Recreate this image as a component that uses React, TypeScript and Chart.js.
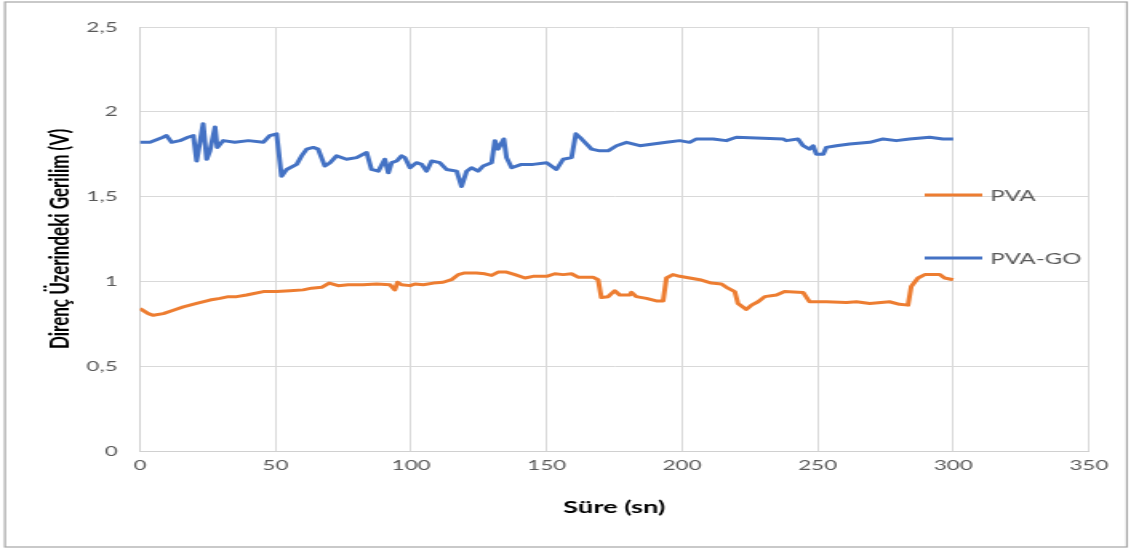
import React, { useEffect, useRef } from 'react';
import { Chart, registerables } from 'chart.js';

Chart.register(...registerables);

// ---- data ----
const seriesNames = ['PVA', 'PVA-GO'];
const seriesColors = ['#ED7D31', '#4472C4'];

const pvaTimes = [
  0, 3.1, 4.9, 8.6, 12.3, 16, 20.9, 25.8, 29.5, 32.6, 35.7, 39.3, 45.5, 50.4, 55.3, 60.2, 63.3, 67, 69.8, 73.1,
  76.8, 82.3, 87.3, 92.2, 94, 95, 96.5, 99.6, 101.4, 104.5, 108.2, 111.8, 114.9, 117.4, 119.8, 124.1, 127.2, 129.7, 132.1, 135.2,
  138.3, 142, 145, 150, 153, 156.1, 159.2, 161.6, 167.1, 169, 170.2, 172.7, 175.1, 177, 180.7, 181.3, 183.1, 186.8, 190.5, 193,
  194.2, 196.6, 199.1, 206.5, 210.8, 214.5, 216.9, 219.4, 220.6, 223.7, 225.6, 228, 230.5, 234.8, 237.8, 244.6, 247, 253.2, 260.6, 264.3,
  269.2, 276.5, 280.2, 283.3, 284.5, 287, 289.5, 295, 296.8, 300,
];
const pvaValues = [
  0.84, 0.81, 0.8, 0.81, 0.83, 0.85, 0.87, 0.89, 0.9, 0.91, 0.91, 0.92, 0.94, 0.94, 0.945, 0.95, 0.96, 0.965, 0.99, 0.975,
  0.98, 0.98, 0.985, 0.98, 0.95, 0.995, 0.98, 0.975, 0.985, 0.98, 0.99, 0.995, 1.01, 1.04, 1.05, 1.05, 1.045, 1.035, 1.055, 1.055,
  1.04, 1.02, 1.03, 1.03, 1.045, 1.04, 1.045, 1.025, 1.025, 1.01, 0.905, 0.91, 0.945, 0.92, 0.92, 0.935, 0.91, 0.9, 0.885, 0.885,
  1.02, 1.04, 1.03, 1.01, 0.99, 0.985, 0.96, 0.94, 0.87, 0.835, 0.86, 0.88, 0.91, 0.92, 0.94, 0.935, 0.88, 0.88, 0.875, 0.88,
  0.87, 0.88, 0.865, 0.86, 0.97, 1.02, 1.04, 1.04, 1.02, 1.01,
];

const goTimes = [
  0, 3.7, 8.5, 9.8, 11.7, 14.7, 17.7, 19.7, 20.9, 23.3, 24.6, 25.8, 27.7, 28.5, 30.7, 35, 40, 45.5, 47.9, 50.4,
  52.2, 54.1, 57.8, 59.6, 61.5, 63.9, 65.7, 68.2, 70.1, 72.5, 76.2, 79.9, 83.6, 85.4, 87.9, 90.3, 91.6, 92.8, 94.7, 96.5,
  97.7, 99.6, 102, 103.9, 105.7, 107.6, 110.6, 113.1, 116.8, 118.6, 120.5, 122.3, 124.7, 126.6, 129.7, 130.9, 132.1, 134.2, 135.2, 137.1,
  140.7, 145, 150, 153.6, 156.1, 159.2, 160.8, 162.9, 166.6, 169.6, 172.7, 175.8, 179.5, 184.4, 189.3, 194.2, 199.1, 202.8, 205.3, 211.4,
  216.3, 220, 237.2, 238.4, 242.7, 244.6, 247, 248.3, 249.5, 252, 253.2, 256.9, 261.8, 269.2, 274.1, 279, 283.9, 291.3, 296.2, 300,
];
const goValues = [
  1.82, 1.82, 1.85, 1.86, 1.82, 1.83, 1.85, 1.86, 1.71, 1.93, 1.72, 1.77, 1.91, 1.79, 1.83, 1.82, 1.83, 1.82, 1.86, 1.87,
  1.62, 1.66, 1.69, 1.74, 1.78, 1.79, 1.78, 1.68, 1.7, 1.74, 1.72, 1.73, 1.76, 1.66, 1.65, 1.72, 1.64, 1.7, 1.71, 1.74,
  1.73, 1.67, 1.7, 1.69, 1.65, 1.71, 1.7, 1.66, 1.65, 1.56, 1.65, 1.67, 1.65, 1.68, 1.7, 1.83, 1.78, 1.84, 1.73, 1.67,
  1.69, 1.69, 1.7, 1.66, 1.72, 1.73, 1.87, 1.84, 1.78, 1.77, 1.77, 1.8, 1.82, 1.8, 1.81, 1.82, 1.83, 1.82, 1.84, 1.84,
  1.83, 1.85, 1.84, 1.83, 1.84, 1.8, 1.78, 1.8, 1.75, 1.75, 1.79, 1.8, 1.81, 1.82, 1.84, 1.83, 1.84, 1.85, 1.84, 1.84,
];

const yTickLabels = ['0', '0,5', '1', '1,5', '2', '2,5'];
const xTickLabels = ['0', '50', '100', '150', '200', '250', '300', '350'];
const xTitle = 'Süre (sn)';
const yTitle = 'Direnç Üzerindeki Gerilim (V)';

// ---- layout ----
const FULL_W = 1131;
const FULL_H = 550;
const W = 707;
const STRETCH = FULL_W / W;

const toPoints = (t: number[], v: number[]) => {
  const n = Math.min(t.length, v.length);
  const out: { x: number; y: number }[] = [];
  for (let i = 0; i < n; i++) out.push({ x: t[i], y: v[i] });
  return out;
};

const decorPlugin = {
  id: 'decor',
  afterDraw(chart: any) {
    const ctx = chart.ctx;
    ctx.save();
    ctx.strokeStyle = '#a6a6a6';
    ctx.lineWidth = 1.2;
    ctx.strokeRect(3.1, 2, 701.3, 545);
    const rows = [195, 258];
    chart.data.datasets.forEach((ds: any, i: number) => {
      const y = rows[i];
      ctx.strokeStyle = ds.borderColor;
      ctx.lineWidth = 3;
      ctx.beginPath();
      ctx.moveTo(578, y);
      ctx.lineTo(614, y);
      ctx.stroke();
      ctx.fillStyle = '#595959';
      ctx.font = '15px Lato';
      ctx.textBaseline = 'middle';
      ctx.textAlign = 'left';
      ctx.fillText(ds.label, 619, y + 1);
    });
    ctx.restore();
  },
};

export default function App() {
  const canvasRef = useRef<HTMLCanvasElement | null>(null);

  useEffect(() => {
    document.body.style.margin = '0';
    const canvas = canvasRef.current;
    if (!canvas) return;
    const chart = new Chart(canvas, {
      type: 'line',
      data: {
        datasets: [
          {
            label: seriesNames[0],
            data: toPoints(pvaTimes, pvaValues),
            borderColor: seriesColors[0],
            backgroundColor: seriesColors[0],
            borderWidth: 3,
            pointRadius: 0,
            tension: 0,
            borderJoinStyle: 'round',
          },
          {
            label: seriesNames[1],
            data: toPoints(goTimes, goValues),
            borderColor: seriesColors[1],
            backgroundColor: seriesColors[1],
            borderWidth: 3,
            pointRadius: 0,
            tension: 0,
            borderJoinStyle: 'round',
          },
        ],
      },
      options: {
        responsive: false,
        animation: false,
        layout: { padding: { left: 0, top: 27, right: W - 680.6, bottom: 0 } },
        plugins: { legend: { display: false }, tooltip: { enabled: false } },
        scales: {
          x: {
            type: 'linear',
            min: 0,
            max: 350,
            afterFit: (s: any) => {
              s.height = FULL_H - 451;
            },
            ticks: {
              stepSize: 50,
              color: '#595959',
              font: { family: 'Lato', size: 14 },
              padding: 6,
              maxRotation: 0,
              callback: (v: any) => xTickLabels[Math.round(Number(v) / 50)] ?? '',
            },
            grid: { color: '#d9d9d9', lineWidth: 1, drawTicks: false },
            border: { color: '#d0d0d0', width: 1 },
            title: {
              display: true,
              text: xTitle,
              color: '#000000',
              font: { family: 'Lato', size: 17, weight: 'bold' },
              padding: { top: 0, bottom: 32 },
            },
          },
          y: {
            type: 'linear',
            min: 0,
            max: 2.5,
            afterFit: (s: any) => {
              s.width = 87.5;
            },
            ticks: {
              stepSize: 0.5,
              color: '#595959',
              font: { family: 'Lato', size: 14 },
              padding: 14,
              callback: (v: any) => yTickLabels[Math.round(Number(v) / 0.5)] ?? '',
            },
            grid: { color: '#d9d9d9', lineWidth: 1, drawTicks: false },
            border: { color: '#d0d0d0', width: 1 },
            title: {
              display: true,
              text: yTitle,
              color: '#000000',
              font: { family: 'Lato', size: 17, weight: 'bold' },
              padding: { top: 27, bottom: 0 },
            },
          },
        },
      },
      plugins: [decorPlugin],
    } as any);
    return () => chart.destroy();
  }, []);

  return (
    <div style={{ width: FULL_W, height: FULL_H, overflow: 'hidden', position: 'relative', background: '#ffffff' }}>
      <div style={{ width: W, height: FULL_H, transform: `scaleX(${STRETCH})`, transformOrigin: '0 0' }}>
        <canvas ref={canvasRef} width={W} height={FULL_H} style={{ width: W, height: FULL_H, display: 'block' }} />
      </div>
    </div>
  );
}
